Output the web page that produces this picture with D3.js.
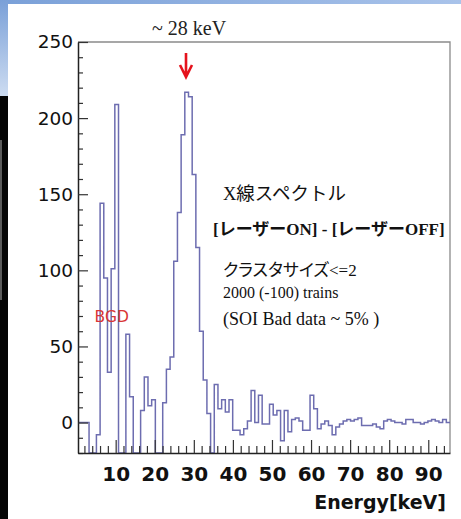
<!DOCTYPE html>
<html>
<head>
<meta charset="utf-8">
<script src="https://cdn.jsdelivr.net/npm/d3@7/dist/d3.min.js"></script>
<style>
  body { margin: 0; background: #fff; }
  svg { display: block; }
</style>
</head>
<body>
<svg width="461" height="519"></svg>
<script>
// histogram range shown on the frame (keV) and bin contents (101 bins)
const xMin = 0.36;
const xMax = 95.56;
const counts = [
  0, 0, 0, -30, -30, -8, 144, 95, 33, 101,
  209, -30, -30, 58, 17, -30, -30, 8, 30, 11,
  15, -30, -30, 13, 35, 43, 106, 138, 189, 217,
  214, 163, 115, 60, 28, 6, -30, 25, 9, 15,
  7, 15, -5, -5, -8, -4, 1, 21, 0, 18,
  -1, -1, 12, 5, 8, -12, 8, -6, 2, 3,
  1, -5, -5, 18, 9, -4, -1, 1, -2, -8,
  -3, -1, 1, 2, 1, 2, 3, -2, -2, -2,
  -1, -3, -4, 1, 2, 1, 0, 0, -1, 2,
  2, 0, 0, -1, 0, 1, 2, 1, 0, 2,
  0
];
const yRange = [-20, 250];
const yMajor = [0, 50, 100, 150, 200, 250];
const xMajor = [10, 20, 30, 40, 50, 60, 70, 80, 90];
const peakEnergy = 28;
const bgdEnergy = 9;

const fLeft = 78, fRight = 450, fTop = 42, fBottom = 453;
const svg = d3.select('svg');

// slide background bits
const defs = svg.append('defs');
const g1 = defs.append('linearGradient').attr('id', 'side')
    .attr('x1', 0).attr('y1', 0).attr('x2', 0).attr('y2', 1);
g1.append('stop').attr('offset', 0).attr('stop-color', '#7aa0d8');
g1.append('stop').attr('offset', 1).attr('stop-color', '#cddcf1');
const g2 = defs.append('linearGradient').attr('id', 'band')
    .attr('x1', 0).attr('y1', 0).attr('x2', 1).attr('y2', 0);
g2.append('stop').attr('offset', 0).attr('stop-color', '#7aa0d8');
g2.append('stop').attr('offset', 1).attr('stop-color', '#a9c3ea');

svg.append('rect').attr('x', 0).attr('y', 0).attr('width', 461).attr('height', 4)
    .attr('fill', 'url(#band)');
svg.append('rect').attr('x', 0).attr('y', 0).attr('width', 8).attr('height', 96)
    .attr('fill', 'url(#side)');
svg.append('rect').attr('x', 0).attr('y', 96).attr('width', 8).attr('height', 423)
    .attr('fill', '#050505');
svg.append('rect').attr('x', 0).attr('y', 140).attr('width', 2).attr('height', 160)
    .attr('fill', '#5a5a5a');

const x = d3.scaleLinear().domain([xMin, xMax]).range([fLeft, fRight]);
const y = d3.scaleLinear().domain(yRange).range([fBottom, fTop]).clamp(true);

// frame (top / right)
svg.append('path')
    .attr('d', `M${fLeft},${fTop}H${fRight}V${fBottom}`)
    .attr('fill', 'none')
    .attr('stroke', '#8a8a8a')
    .attr('stroke-width', 1.3);

// histogram outline
const bw = (xMax - xMin) / counts.length;
const pts = counts.map((c, i) => [xMin + i * bw, c]);
pts.push([xMax, counts[counts.length - 1]]);
const step = d3.line()
    .x(d => x(d[0]))
    .y(d => y(d[1]))
    .curve(d3.curveStepAfter);
svg.append('path')
    .attr('d', step(pts))
    .attr('fill', 'none')
    .attr('stroke', '#6d6db0')
    .attr('stroke-width', 1.5);

// y axis
const yMinor = d3.range(yRange[0], yRange[1] + 1, 10).filter(v => !yMajor.includes(v));
svg.append('g')
    .attr('transform', `translate(${fLeft},0)`)
    .call(d3.axisLeft(y).tickValues(yMinor).tickSizeInner(-5).tickSizeOuter(0).tickFormat(''))
    .call(g => g.select('.domain').remove());
const yAxisG = svg.append('g')
    .attr('transform', `translate(${fLeft},0)`)
    .call(d3.axisLeft(y).tickValues(yMajor).tickSizeInner(-10).tickSizeOuter(0).tickPadding(5));
yAxisG.selectAll('text')
    .attr('font-family', 'DejaVu Sans')
    .attr('font-size', 18.5)
    .attr('fill', '#111');

// x axis
const xMinor = d3.range(2, 96, 2).filter(v => v % 10 !== 0);
svg.append('g')
    .attr('transform', `translate(0,${fBottom})`)
    .call(d3.axisBottom(x).tickValues(xMinor).tickSizeInner(-7).tickSizeOuter(0).tickFormat(''))
    .call(g => g.select('.domain').remove());
const xAxisG = svg.append('g')
    .attr('transform', `translate(0,${fBottom})`)
    .call(d3.axisBottom(x).tickValues(xMajor).tickSizeInner(-13).tickSizeOuter(0).tickPadding(14));
xAxisG.selectAll('text')
    .attr('font-family', 'DejaVu Sans')
    .attr('font-weight', 'bold')
    .attr('font-size', 20)
    .attr('fill', '#111');

svg.selectAll('.tick line').attr('stroke', '#333').attr('stroke-width', 1.2);
svg.selectAll('.domain').attr('stroke', '#222').attr('stroke-width', 1.5);

svg.append('text')
    .attr('x', 446).attr('y', 509)
    .attr('text-anchor', 'end')
    .attr('font-family', 'DejaVu Sans')
    .attr('font-weight', 'bold')
    .attr('font-size', 19)
    .attr('fill', '#111')
    .text('Energy[keV]');

// annotations
const serif = "'Liberation Serif', 'Noto Sans CJK JP', serif";
svg.append('text')
    .attr('x', 152).attr('y', 35)
    .attr('font-family', serif)
    .attr('font-size', 20)
    .attr('fill', '#222')
    .text('~ 28 keV');

const ax = x(peakEnergy);
svg.append('path')
    .attr('d', `M${ax},53V76M${ax - 6},65L${ax},77L${ax + 6},65`)
    .attr('fill', 'none')
    .attr('stroke', '#e5121c')
    .attr('stroke-width', 2.6);

svg.append('text')
    .attr('x', x(bgdEnergy)).attr('y', 322)
    .attr('text-anchor', 'middle')
    .attr('font-family', 'DejaVu Sans')
    .attr('font-size', 15.5)
    .attr('fill', '#d93636')
    .text('BGD');

const notes = [
  {t: 'X線スペクトル', x: 223, y: 200, s: 18.5, w: 'normal', palt: false},
  {t: '[レーザーON] - [レーザーOFF]', x: 213, y: 235, s: 17, w: 'bold', palt: false},
  {t: 'クラスタサイズ<=2', x: 223, y: 276, s: 17, w: 'normal', palt: true},
  {t: '2000 (-100) trains', x: 223, y: 298, s: 16, w: 'normal', palt: false},
  {t: '(SOI Bad data ~ 5% )', x: 223, y: 325, s: 18, w: 'normal', palt: false}
];
svg.selectAll('text.note')
    .data(notes)
    .join('text')
    .attr('class', 'note')
    .attr('x', d => d.x)
    .attr('y', d => d.y)
    .attr('font-family', serif)
    .attr('font-size', d => d.s)
    .attr('font-weight', d => d.w)
    .style('font-feature-settings', d => d.palt ? '"palt"' : 'normal')
    .attr('fill', '#111')
    .text(d => d.t);
</script>
</body>
</html>
